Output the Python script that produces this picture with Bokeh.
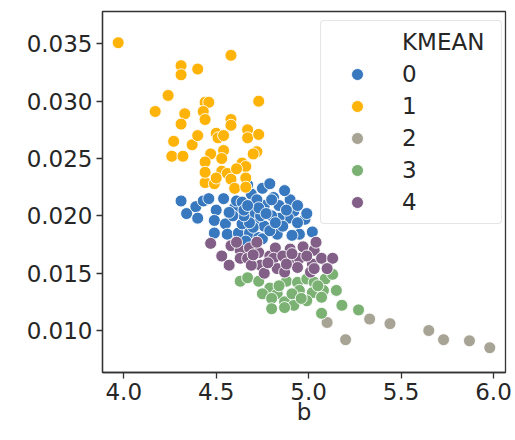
from bokeh.plotting import figure
from bokeh.models import Range1d, FixedTicker, NumeralTickFormatter, Legend, LegendItem, ColumnDataSource
from bokeh.embed import file_html
from bokeh.resources import INLINE

# KMEAN cluster 0 (blue)
b0 = [4.31, 4.34, 4.39, 4.40, 4.43, 4.46, 4.54, 4.50, 4.60, 4.61, 4.64, 4.69, 4.68, 4.49, 4.55,
      4.49, 4.56, 4.62, 4.64, 4.71, 4.68, 4.73, 4.66, 4.75, 4.79, 4.81, 4.76, 4.84, 4.90, 4.92,
      4.89, 4.98, 5.02, 4.95, 4.91, 4.83, 4.76, 4.75, 4.70, 4.74, 4.84, 4.80, 4.70, 4.68, 4.65,
      4.59, 4.87, 4.94, 4.67, 4.86, 4.79, 4.72, 4.73, 4.77, 4.82, 4.88, 4.65, 4.57, 4.67, 4.80,
      4.94, 4.99]
v0 = [0.0213, 0.0202, 0.0208, 0.0198, 0.0213, 0.0215, 0.0215, 0.0205, 0.0207, 0.0213, 0.0212,
      0.0219, 0.0203, 0.0196, 0.0193, 0.0185, 0.0184, 0.0185, 0.0193, 0.0193, 0.0185, 0.0181,
      0.0178, 0.0224, 0.0228, 0.0216, 0.0209, 0.0209, 0.0214, 0.0204, 0.0198, 0.0197, 0.0186,
      0.0184, 0.0183, 0.0184, 0.0191, 0.0180, 0.0203, 0.0200, 0.0198, 0.0200, 0.0190, 0.0194,
      0.0200, 0.0200, 0.0222, 0.0209, 0.0227, 0.0191, 0.0187, 0.0214, 0.0207, 0.0202, 0.0194,
      0.0205, 0.0205, 0.0203, 0.0209, 0.0214, 0.0194, 0.0202]

# KMEAN cluster 1 (orange)
b1 = [3.97, 4.58, 4.31, 4.31, 4.40, 4.24, 4.17, 4.44, 4.46, 4.73, 4.33, 4.43, 4.44, 4.31, 4.58,
      4.58, 4.27, 4.37, 4.40, 4.50, 4.51, 4.54, 4.67, 4.67, 4.73, 4.26, 4.32, 4.54, 4.47, 4.53,
      4.72, 4.70, 4.44, 4.64, 4.66, 4.53, 4.56, 4.66, 4.44, 4.49, 4.50, 4.58, 4.60, 4.66, 4.44,
      4.61]
v1 = [0.0351, 0.0340, 0.0331, 0.0323, 0.0328, 0.0305, 0.0291, 0.0299, 0.0299, 0.0300, 0.0289,
      0.0291, 0.0284, 0.0280, 0.0284, 0.0279, 0.0265, 0.0262, 0.0270, 0.0272, 0.0268, 0.0270,
      0.0275, 0.0268, 0.0271, 0.0252, 0.0252, 0.0257, 0.0254, 0.0250, 0.0256, 0.0254, 0.0247,
      0.0246, 0.0243, 0.0239, 0.0237, 0.0233, 0.0229, 0.0228, 0.0233, 0.0232, 0.0224, 0.0225,
      0.0238, 0.0241]

# KMEAN cluster 2 (grey)
b2 = [5.10, 5.20, 5.33, 5.44, 5.65, 5.73, 5.87, 5.98]
v2 = [0.0107, 0.0092, 0.0110, 0.0106, 0.0100, 0.0092, 0.0091, 0.0085]

# KMEAN cluster 3 (green)
b3 = [4.63, 4.67, 4.73, 4.79, 4.75, 4.83, 4.80, 4.88, 4.94, 4.99, 5.03, 5.09, 5.13, 4.95, 5.02,
      5.08, 5.15, 4.87, 4.92, 4.80, 4.87, 5.07, 5.18, 5.07, 5.27, 4.84, 4.91, 4.99, 5.05, 4.96]
v3 = [0.0143, 0.0146, 0.0143, 0.0137, 0.0132, 0.0132, 0.0128, 0.0143, 0.0142, 0.0145, 0.0142,
      0.0145, 0.0149, 0.0135, 0.0133, 0.0135, 0.0135, 0.0125, 0.0122, 0.0119, 0.0120, 0.0129,
      0.0122, 0.0115, 0.0118, 0.0139, 0.0132, 0.0126, 0.0139, 0.0128]

# KMEAN cluster 4 (purple)
b4 = [4.47, 4.58, 4.63, 4.68, 4.73, 4.79, 4.82, 4.90, 4.97, 5.03, 4.63, 4.67, 4.74, 4.81, 4.92,
      4.95, 5.02, 5.07, 5.13, 4.57, 4.69, 4.83, 4.94, 5.01, 5.10, 4.76, 4.87, 5.03, 5.04, 4.86,
      4.72, 4.61, 4.53, 4.88, 4.99, 4.78, 4.91, 4.70]
v4 = [0.0176, 0.0174, 0.0170, 0.0172, 0.0168, 0.0165, 0.0172, 0.0171, 0.0173, 0.0170, 0.0163,
      0.0163, 0.0157, 0.0163, 0.0161, 0.0163, 0.0158, 0.0163, 0.0163, 0.0157, 0.0157, 0.0154,
      0.0155, 0.0151, 0.0154, 0.0150, 0.0151, 0.0154, 0.0177, 0.0165, 0.0177, 0.0177, 0.0165,
      0.0158, 0.0165, 0.0159, 0.0167, 0.0166]

labels = ["0", "1", "2", "3", "4"]
colors = ["#3778bf", "#feb308", "#a8a495", "#7bb274", "#825f87"]
xticks = [4.0, 4.5, 5.0, 5.5, 6.0]
yticks = [0.010, 0.015, 0.020, 0.025, 0.030, 0.035]

FONT = "DejaVu Sans"
FS = "23px"
INK = "#262626"
SPINE = "#333333"

p = figure(width=515, height=440, output_backend="svg", toolbar_location=None,
           x_range=Range1d(3.885, 6.065), y_range=Range1d(0.00634, 0.03782),
           min_border_left=102, min_border_right=10, min_border_top=11, min_border_bottom=68)
p.grid.visible = False
p.outline_line_color = SPINE
p.outline_line_width = 1.3
p.background_fill_color = "white"
p.border_fill_color = "white"

for ax in (p.xaxis[0], p.yaxis[0]):
    ax.axis_line_color = SPINE
    ax.axis_line_width = 1.3
    ax.major_tick_line_color = SPINE
    ax.major_tick_line_width = 1.3
    ax.major_tick_in = 0
    ax.major_tick_out = 6
    ax.minor_tick_line_color = None
    ax.major_label_text_font = FONT
    ax.major_label_text_font_size = FS
    ax.major_label_text_color = INK
    ax.major_label_standoff = 4

p.xaxis.ticker = FixedTicker(ticks=xticks)
p.yaxis.ticker = FixedTicker(ticks=yticks)
p.xaxis.formatter = NumeralTickFormatter(format="0.0")
p.yaxis.formatter = NumeralTickFormatter(format="0.000")
p.xaxis.axis_label = "b"
p.xaxis.axis_label_text_font = FONT
p.xaxis.axis_label_text_font_size = FS
p.xaxis.axis_label_text_font_style = "normal"
p.xaxis.axis_label_text_color = INK
p.xaxis.axis_label_standoff = -4

series = [(b0, v0), (b1, v1), (b2, v2), (b3, v3), (b4, v4)]
renderers = []
for (bx, vy), c in zip(series, colors):
    src = ColumnDataSource(dict(b=bx, v=vy))
    r = p.scatter("b", "v", source=src, size=12, fill_color=c, line_color="white",
                  line_width=0.9)
    renderers.append(r)

# invisible renderer for the hue title row (seaborn style)
title_r = p.scatter(x=[], y=[], size=12, fill_alpha=0, line_alpha=0)

items = [LegendItem(label="KMEAN", renderers=[title_r])]
items += [LegendItem(label=lab, renderers=[r]) for lab, r in zip(labels, renderers)]
legend = Legend(items=items, location=(218, 148), margin=0, padding=6, spacing=2,
                glyph_width=60, glyph_height=30, label_height=30, label_width=93,
                label_standoff=15,
                label_text_font=FONT, label_text_font_size=FS, label_text_color=INK,
                border_line_color="#cccccc", border_line_width=1.2, border_radius=4,
                background_fill_color="white", background_fill_alpha=0.85)
p.add_layout(legend, "center")

open("out.html", "w").write(file_html(p, INLINE))
